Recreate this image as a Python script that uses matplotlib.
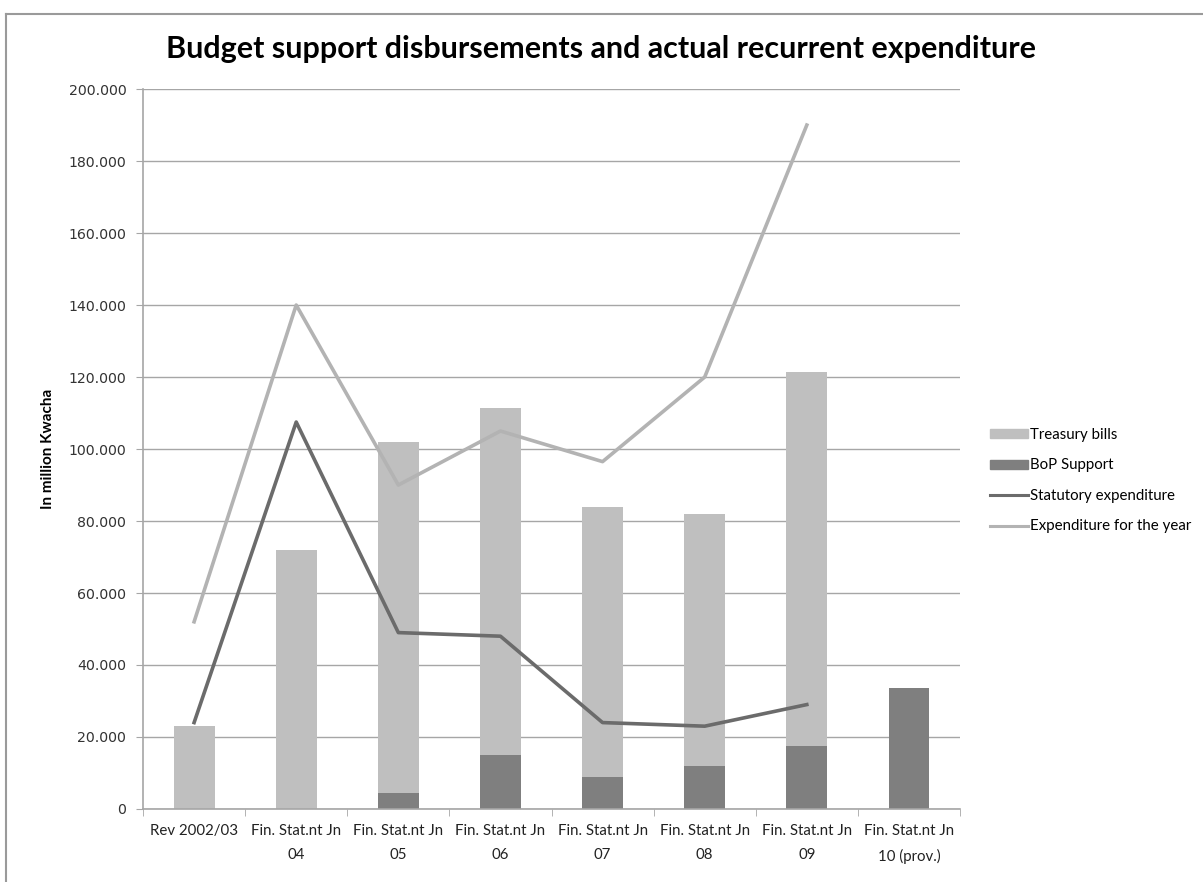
import numpy as np
import matplotlib.pyplot as plt
from matplotlib.lines import Line2D
from matplotlib.patches import Patch
from matplotlib.ticker import FuncFormatter

# ── data (million Kwacha) ────────────────────────────────────────────────────
categories = ["Rev 2002/03", "Fin. Stat.nt Jn\n04", "Fin. Stat.nt Jn\n05",
              "Fin. Stat.nt Jn\n06", "Fin. Stat.nt Jn\n07", "Fin. Stat.nt Jn\n08",
              "Fin. Stat.nt Jn\n09", "Fin. Stat.nt Jn\n10 (prov.)"]
bop_support = [0, 0, 4.5, 15, 9, 12, 17.5, 33.5]
treasury_bills = [23, 72, 97.5, 96.5, 75, 70, 104, 0]
statutory_exp = [24, 107.5, 49, 48, 24, 23, 29]
expenditure_year = [52, 140, 90, 105, 96.5, 120, 190]

LIGHT = "#bfbfbf"
DARK = "#7f7f7f"

fig = plt.figure(figsize=(12.03, 8.82), dpi=100)
ax = fig.add_axes([0.1189, 0.0828, 0.6791, 0.8162])

x = np.arange(len(categories))
ax.bar(x, bop_support, width=0.4, color=DARK, zorder=2)
ax.bar(x, treasury_bills, width=0.4, bottom=bop_support, color=LIGHT, zorder=2)
ax.plot(x[:len(statutory_exp)], statutory_exp, color="#6b6b6b", lw=2.6, zorder=3)
ax.plot(x[:len(expenditure_year)], expenditure_year, color="#b3b3b3", lw=2.6, zorder=3)

ax.set_xlim(-0.5, len(categories) - 0.5)
ax.set_ylim(0, 200)
ax.set_yticks(np.arange(0, 201, 20))
ax.yaxis.set_major_formatter(FuncFormatter(lambda v, p: "0" if v == 0 else f"{v:.3f}"))
ax.grid(axis="y", color="#a6a6a6", lw=1.0, zorder=0)
ax.set_axisbelow(True)

for s in ["top", "right"]:
    ax.spines[s].set_visible(False)
for s in ["left", "bottom"]:
    ax.spines[s].set_color("#a6a6a6")
    ax.spines[s].set_linewidth(1.2)

ax.set_xticks(x)
ax.set_xticklabels(categories, fontsize=10.8, family="Lato", color="#222222", linespacing=1.85)
ax.set_xticks(np.arange(-0.5, len(categories)), minor=True)
ax.tick_params(axis="x", which="major", length=0, pad=11)
ax.tick_params(axis="x", which="minor", length=5, color="#a6a6a6")
ax.tick_params(axis="y", length=5, color="#a6a6a6", labelsize=10.2, labelcolor="#333333", pad=7)

ax.set_ylabel("In million Kwacha", fontsize=11, fontweight="bold", family="Lato", labelpad=10)

fig.text(0.5, 0.945, "Budget support disbursements and actual recurrent expenditure",
         ha="center", va="center", fontsize=22, fontweight="bold", family="Lato")

handles = [Patch(color=LIGHT, label="Treasury bills"),
           Patch(color=DARK, label="BoP Support"),
           Line2D([], [], color="#6b6b6b", lw=2.2, label="Statutory expenditure"),
           Line2D([], [], color="#b3b3b3", lw=2.2, label="Expenditure for the year")]
fig.legend(handles=handles, loc="center left", bbox_to_anchor=(0.812, 0.455), frameon=False,
           prop={"family": "Lato", "size": 10.8}, labelspacing=1.1, handlelength=2.5,
           handleheight=0.55, handletextpad=0.15)

# chart area frame
fig.add_artist(Line2D([6 / 1203, 1], [1 - 14 / 882, 1 - 14 / 882], color="#9a9a9a", lw=1.5))
fig.add_artist(Line2D([6 / 1203, 6 / 1203], [0, 1 - 14 / 882], color="#9a9a9a", lw=1.5))

fig.savefig("out.png", dpi=100)
